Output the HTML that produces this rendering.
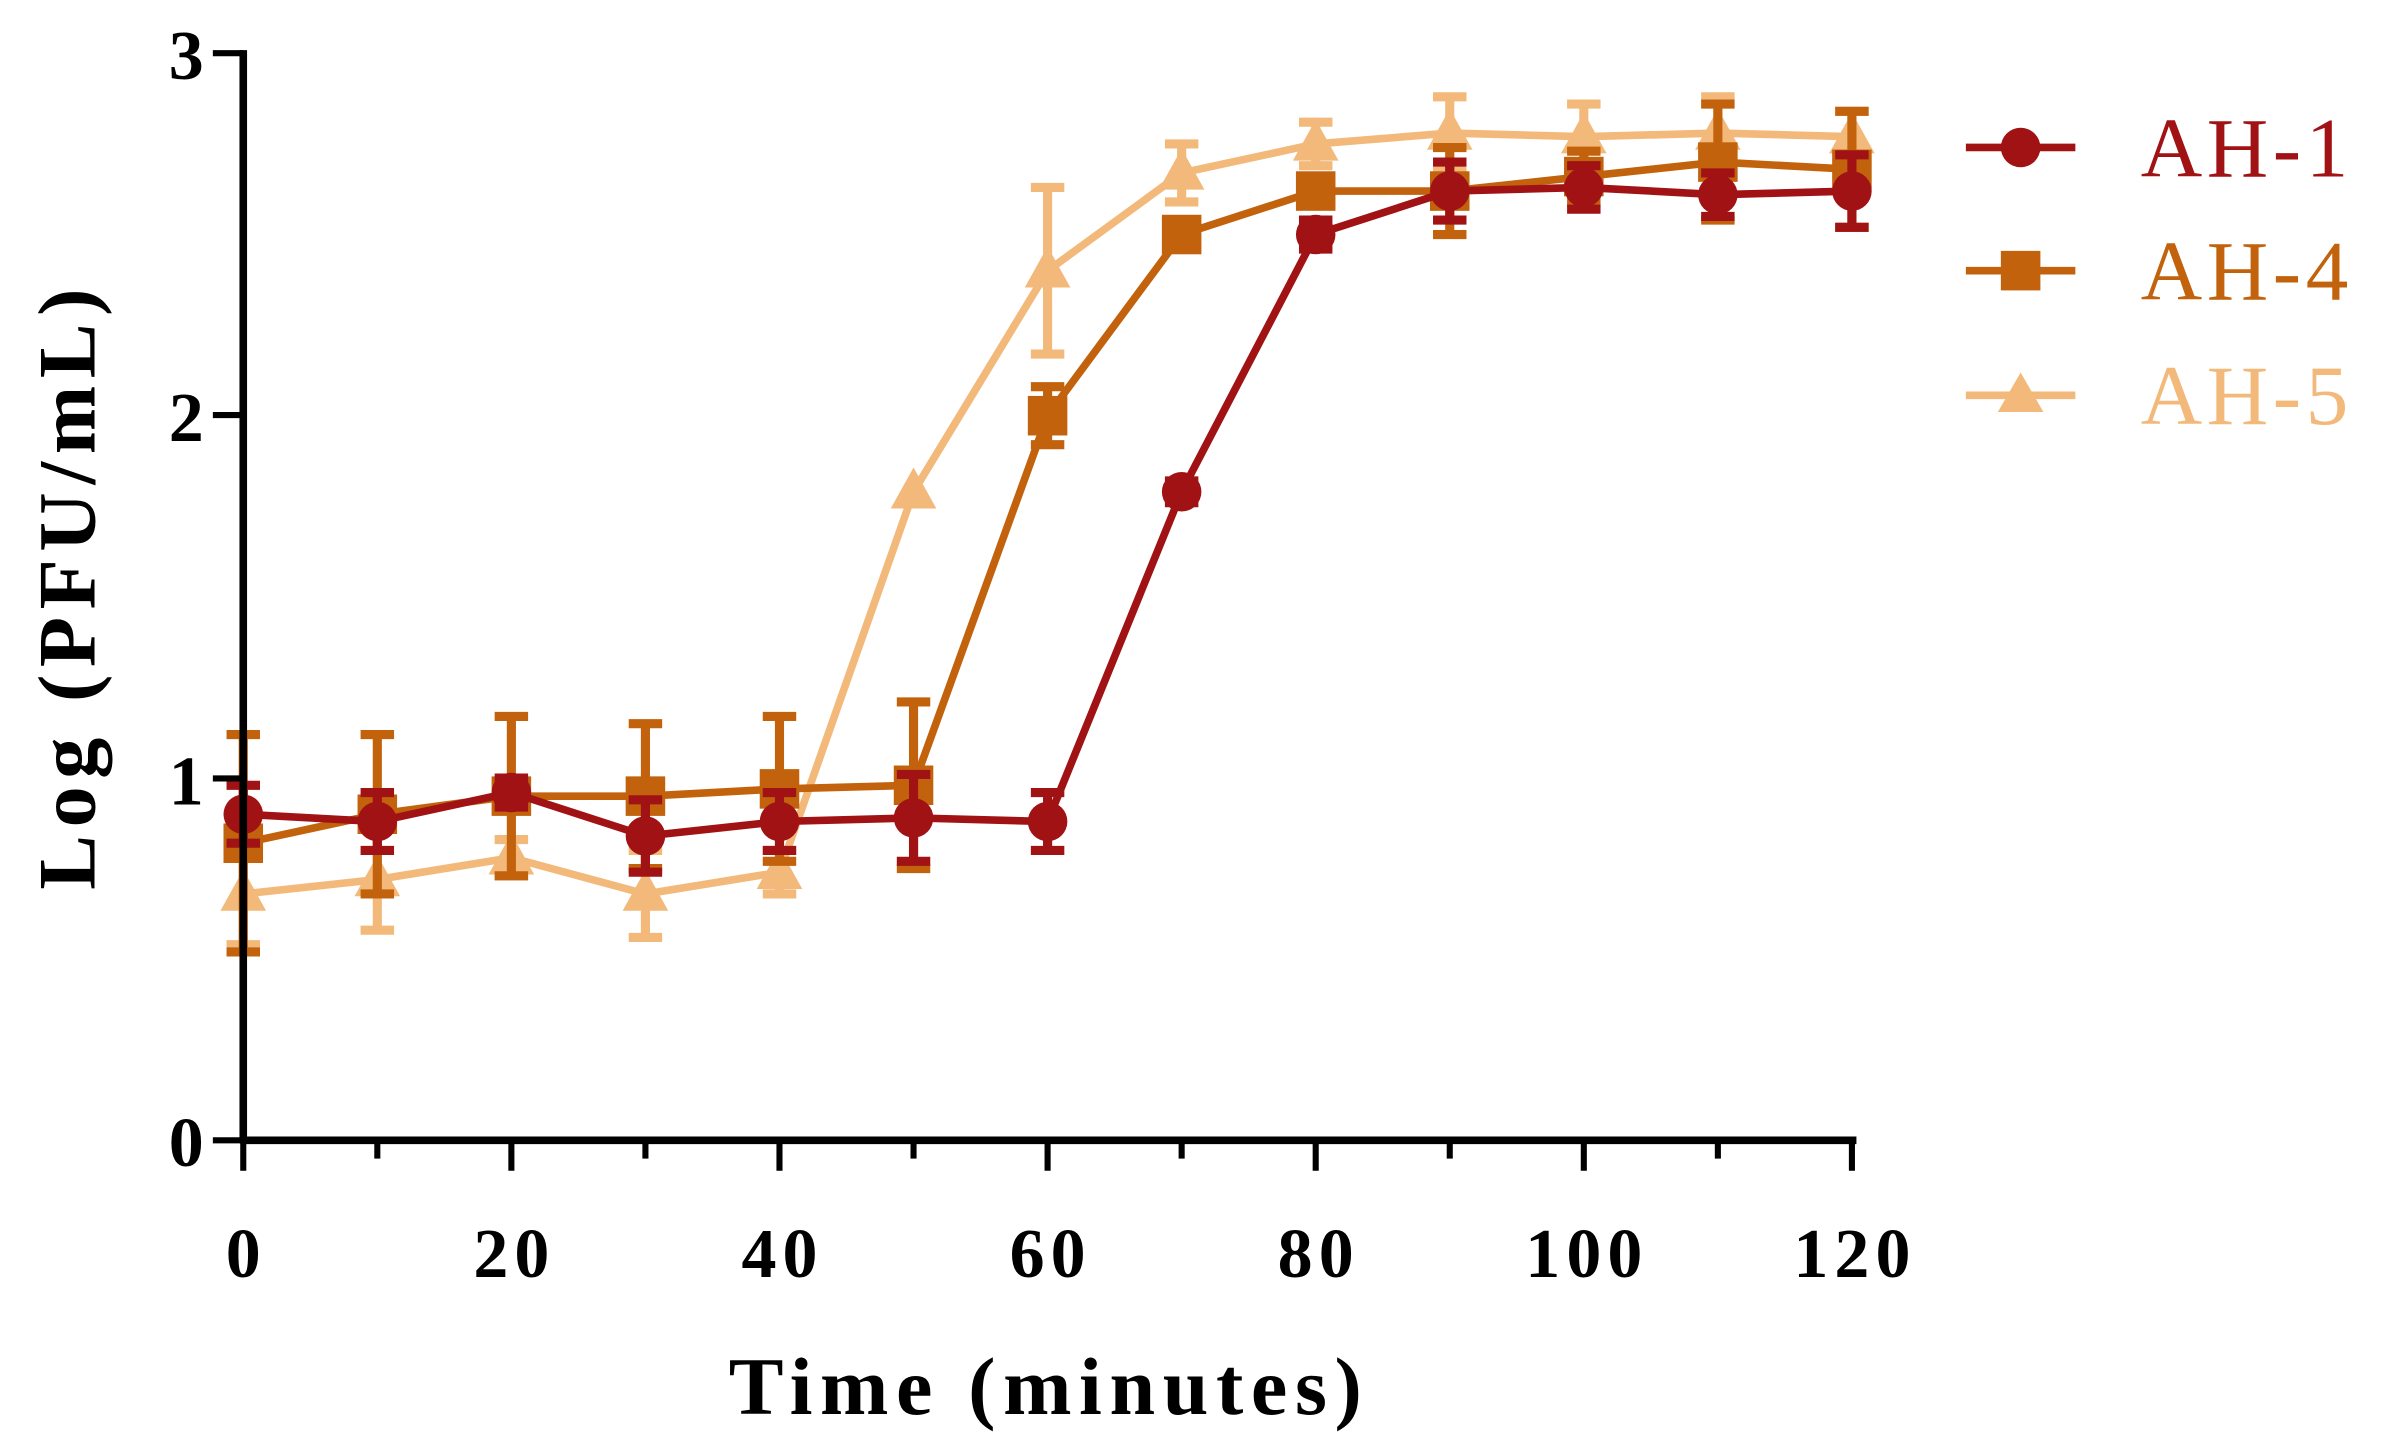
<!DOCTYPE html>
<html><head><style>html,body{margin:0;padding:0;background:#fff;}svg{display:block}</style></head>
<body>
<svg id="s" width="2384" height="1449" viewBox="0 0 1568 953" preserveAspectRatio="none" xmlns="http://www.w3.org/2000/svg" font-family="Liberation Serif, serif">
<g id="data"></g>
<line x1="160" y1="33" x2="160" y2="752" stroke="#000" stroke-width="5"/>
<line x1="158" y1="750" x2="1221" y2="750" stroke="#000" stroke-width="5"/>
<g stroke="#000" stroke-width="4">
<line x1="140" y1="35" x2="160" y2="35"/><line x1="140" y1="273" x2="160" y2="273"/><line x1="140" y1="512" x2="160" y2="512"/><line x1="140" y1="750" x2="160" y2="750"/>
</g>
<g id="xt" stroke="#000" stroke-width="4"></g>
<g font-size="46" font-weight="bold" text-anchor="end" fill="#000">
<text x="134" y="52">3</text><text x="134" y="290">2</text><text x="134" y="529">1</text><text x="134" y="767">0</text>
</g>
<g id="xl" font-size="46" font-weight="bold" text-anchor="middle" fill="#000" letter-spacing="4"></g>
<text x="690" y="930" font-size="54" font-weight="bold" text-anchor="middle" letter-spacing="5">Time (minutes)</text>
<text transform="translate(62,385) rotate(-90)" font-size="54" font-weight="bold" text-anchor="middle" letter-spacing="5">Log (PFU/mL)</text>
<g font-size="56" letter-spacing="3">
<line x1="1293" y1="97" x2="1365" y2="97" stroke="#a01214" stroke-width="5"/><circle cx="1329" cy="97" r="13" fill="#a01214"/>
<text x="1408" y="116" fill="#a01214">AH-1</text>
<line x1="1293" y1="178" x2="1365" y2="178" stroke="#c2620c" stroke-width="5"/><rect x="1316" y="165" width="26" height="26" fill="#c2620c"/>
<text x="1408" y="197" fill="#c2620c">AH-4</text>
<line x1="1293" y1="260" x2="1365" y2="260" stroke="#f2b97a" stroke-width="5"/><polygon points="1329,245 1344,271 1314,271" fill="#f2b97a"/>
<text x="1408" y="279" fill="#f2b97a">AH-5</text>
</g>
</svg>
<script>
const NS="http://www.w3.org/2000/svg";
const X=t=>160+t*8.817, Y=v=>750-v*238.3;
const xt=document.getElementById('xt'), xl=document.getElementById('xl');
for(let t=0;t<=120;t+=10){let l=document.createElementNS(NS,'line');l.setAttribute('x1',X(t));l.setAttribute('x2',X(t));l.setAttribute('y1',750);l.setAttribute('y2',t%20?762:770);xt.appendChild(l);
if(t%20==0){let tx=document.createElementNS(NS,'text');tx.setAttribute('x',X(t)+2);tx.setAttribute('y',840);tx.textContent=t;xl.appendChild(tx);}}
const series=[
{c:"#f2b97a",m:"t",d:[[0,.68,.14],[10,.72,.14],[20,.78,.05],[30,.68,.12],[40,.74,.06],[50,1.79,0],[60,2.4,.23],[70,2.67,.08],[80,2.75,.06],[90,2.78,.1],[100,2.77,.09],[110,2.78,.1],[120,2.77,.07]]},
{c:"#c2620c",m:"s",d:[[0,.82,.3],[10,.9,.22],[20,.95,.22],[30,.95,.2],[40,.97,.2],[50,.98,.23],[60,2.0,.08],[70,2.5,.04],[80,2.62,.04],[90,2.62,.12],[100,2.66,.07],[110,2.7,.16],[120,2.68,.16]]},
{c:"#a01214",m:"c",d:[[0,.9,.08],[10,.88,.08],[20,.96,.04],[30,.84,.1],[40,.88,.08],[50,.89,.12],[60,.88,.08],[70,1.79,.03],[80,2.5,.04],[90,2.62,.08],[100,2.63,.06],[110,2.61,.06],[120,2.62,.1]]}];
const g=document.getElementById('data');
for(const s of series){
 let p=document.createElementNS(NS,'polyline');p.setAttribute('points',s.d.map(a=>X(a[0])+','+Y(a[1])).join(' '));
 p.setAttribute('fill','none');p.setAttribute('stroke',s.c);p.setAttribute('stroke-width',5);g.appendChild(p);
 for(const [t,v,e] of s.d){const x=X(t);
  if(e>0){let path=document.createElementNS(NS,'path');const y1=Y(v+e),y2=Y(v-e);
   path.setAttribute('d',`M${x},${y1}V${y2}M${x-11},${y1}H${x+11}M${x-11},${y2}H${x+11}`);
   path.setAttribute('stroke',s.c);path.setAttribute('stroke-width',6);g.appendChild(path);}
  let m;const y=Y(v);
  if(s.m=="c"){m=document.createElementNS(NS,'circle');m.setAttribute('cx',x);m.setAttribute('cy',y);m.setAttribute('r',13);}
  else if(s.m=="s"){m=document.createElementNS(NS,'rect');m.setAttribute('x',x-13);m.setAttribute('y',y-13);m.setAttribute('width',26);m.setAttribute('height',26);}
  else{m=document.createElementNS(NS,'polygon');m.setAttribute('points',`${x},${y-16} ${x+15},${y+11} ${x-15},${y+11}`);}
  m.setAttribute('fill',s.c);g.appendChild(m);}
}
</script>
</body></html>
